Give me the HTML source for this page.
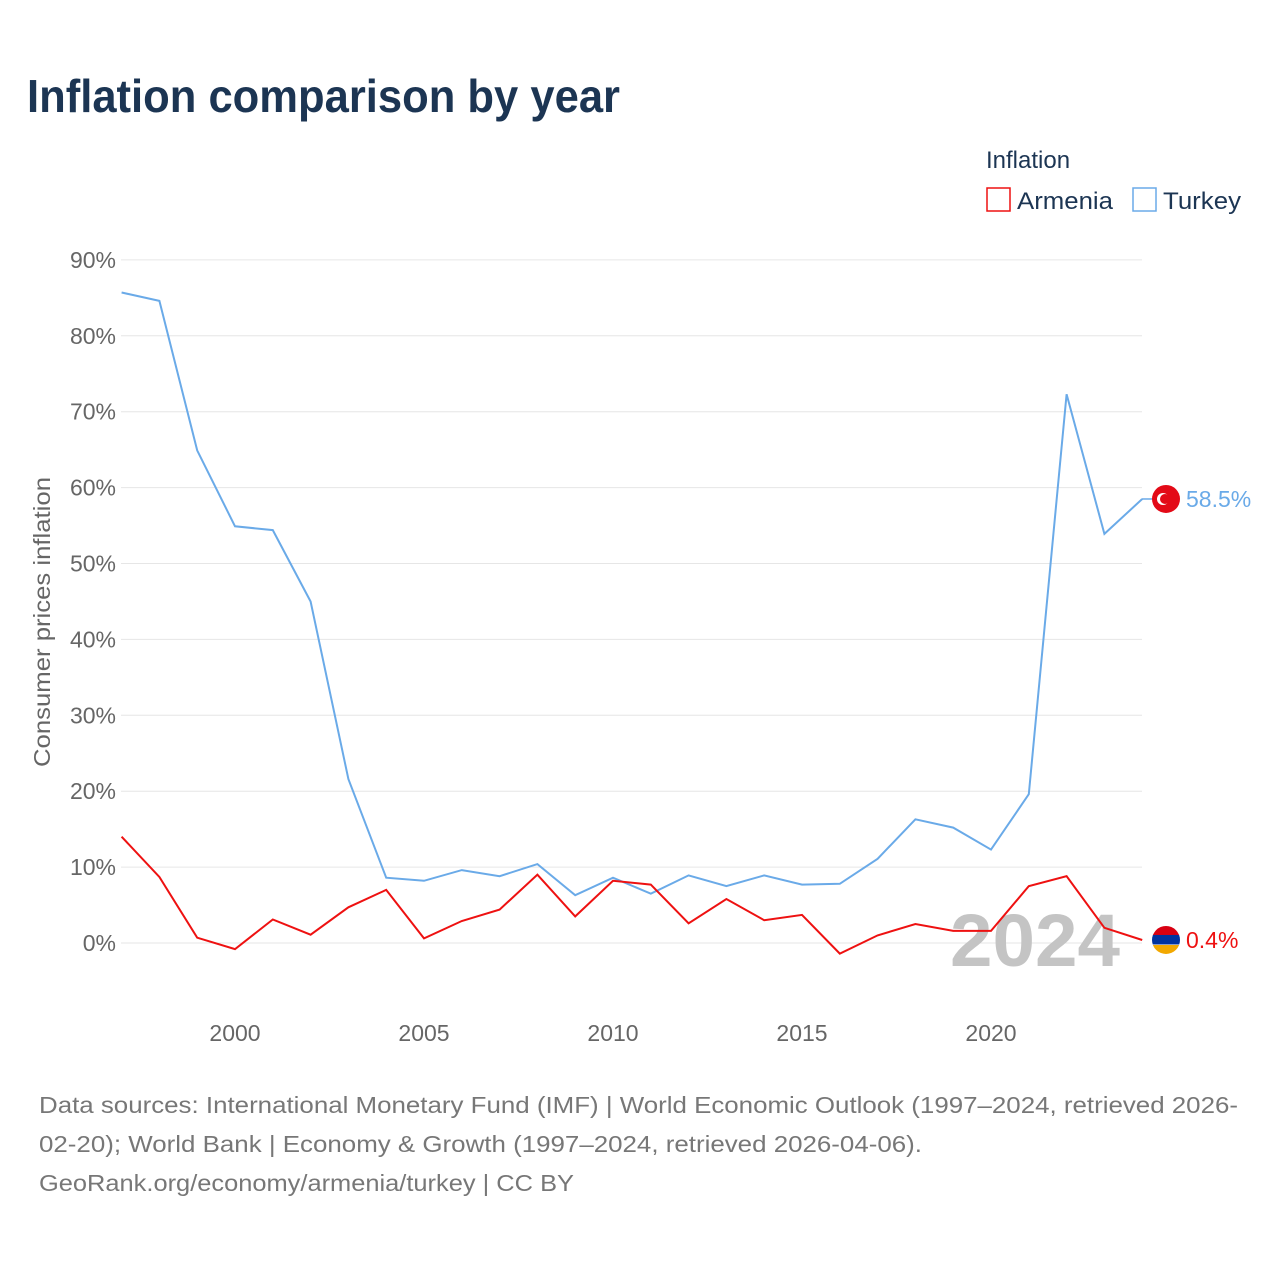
<!DOCTYPE html>
<html><head><meta charset="utf-8"><style>
body{margin:0;background:#fff;font-family:"Liberation Sans",sans-serif}
#wrap{position:relative;width:1280px;height:1280px;overflow:hidden}
</style></head><body><div id="wrap">
<svg id="c" width="1280" height="1280"></svg>
</div>
<script>
const years=[1997,1998,1999,2000,2001,2002,2003,2004,2005,2006,2007,2008,2009,2010,2011,2012,2013,2014,2015,2016,2017,2018,2019,2020,2021,2022,2023,2024];
const turkey=[85.7,84.6,64.9,54.9,54.4,45.0,21.6,8.6,8.2,9.6,8.8,10.4,6.3,8.6,6.5,8.9,7.5,8.9,7.7,7.8,11.1,16.3,15.2,12.3,19.6,72.3,53.9,58.5];
const armenia=[14.0,8.7,0.7,-0.8,3.1,1.1,4.7,7.0,0.6,2.9,4.4,9.0,3.5,8.2,7.7,2.6,5.8,3.0,3.7,-1.4,1.0,2.5,1.6,1.6,7.5,8.8,2.0,0.4];
const yTicks=[0,10,20,30,40,50,60,70,80,90];
const xTicks=[2000,2005,2010,2015,2020];
const NS="http://www.w3.org/2000/svg";
const svg=document.getElementById('c');
const X=y=>121.6+(y-1997)*37.8;
const Y=v=>943-v*7.59;
function el(t,a,txt){const e=document.createElementNS(NS,t);for(const k in a)e.setAttribute(k,a[k]);if(txt!==undefined)e.textContent=txt;svg.appendChild(e);return e;}
let e;
e=el('text',{x:27,y:112,'font-size':46,'font-weight':'bold',fill:'#1c3553',textLength:593,lengthAdjust:'spacingAndGlyphs'},'Inflation comparison by year');


yTicks.forEach(t=>{
 e=el('line',{x1:121,x2:1142,y1:Y(t),y2:Y(t),stroke:'#e6e6e6','stroke-width':1});
 
 
 e=el('text',{x:116,y:Y(t)+8,'font-size':23,fill:'#666','text-anchor':'end'},t+'%');
 
 
});
xTicks.forEach(t=>{
 e=el('text',{x:X(t),y:1041,'font-size':23,fill:'#666','text-anchor':'middle'},t);
 
 
});
e=el('text',{x:0,y:0,'font-size':23,fill:'#666','text-anchor':'middle',transform:'translate(50,622) rotate(-90)',textLength:290,lengthAdjust:'spacingAndGlyphs'},'Consumer prices inflation');


e=el('text',{x:1120,y:966,'font-size':74,'font-weight':'bold',fill:'#c4c4c4','text-anchor':'end',textLength:170,lengthAdjust:'spacingAndGlyphs'},'2024');


function line(vals,col,name){
 const d=vals.map((v,i)=>(i?'L':'M')+X(years[i]).toFixed(1)+' '+Y(v).toFixed(1)).join(' ');
 const p=el('path',{d:d,fill:'none',stroke:col,'stroke-width':2});
 
 
}
line(turkey,'#6aaae8','turkey-line');
line(armenia,'#ee1111','armenia-line');
const lt=turkey[turkey.length-1], la=armenia[armenia.length-1];
e=el('line',{x1:1142,x2:1153,y1:Y(lt),y2:Y(lt),stroke:'#6aaae8','stroke-width':1.5});


e=el('circle',{cx:1166,cy:Y(lt),r:14,fill:'#e30a17'});


e=el('circle',{cx:1163,cy:Y(lt),r:6,fill:'#fff'});
e=el('circle',{cx:1165,cy:Y(lt),r:5,fill:'#e30a17'});
e=el('text',{x:1186,y:Y(lt)+8,'font-size':23,fill:'#6aaae8'},lt.toFixed(1)+'%');


const ya=Y(la);
e=el('clipPath',{id:'ac'});const cc=document.createElementNS(NS,'circle');cc.setAttribute('cx',1166);cc.setAttribute('cy',ya);cc.setAttribute('r',14);e.appendChild(cc);

[['#d90012',-14],['#0033a0',-5],['#f2a800',5]].forEach(([c,o])=>{e=el('rect',{x:1152,y:ya+o,width:28,height:9.5,fill:c,'clip-path':'url(#ac)'});});
e=el('text',{x:1186,y:ya+8,'font-size':23,fill:'#ee1111'},la.toFixed(1)+'%');


e=el('text',{x:986,y:168,'font-size':24,fill:'#1c3553'},'Inflation');
e=el('rect',{x:987,y:188,width:23,height:23,fill:'none',stroke:'#ee1111','stroke-width':1.5});
e=el('text',{x:1017,y:209,'font-size':24,fill:'#1c3553',textLength:96,lengthAdjust:'spacingAndGlyphs'},'Armenia');
e=el('rect',{x:1133,y:188,width:23,height:23,fill:'none',stroke:'#6aaae8','stroke-width':1.5});
e=el('text',{x:1163,y:209,'font-size':24,fill:'#1c3553',textLength:78,lengthAdjust:'spacingAndGlyphs'},'Turkey');
const foot=[['Data sources: International Monetary Fund (IMF) | World Economic Outlook (1997–2024, retrieved 2026-',1199],['02-20); World Bank | Economy & Growth (1997–2024, retrieved 2026-04-06).',883],['GeoRank.org/economy/armenia/turkey | CC BY',535]];
foot.forEach(([t,w],i)=>{
 e=el('text',{x:39,y:1113+i*39,'font-size':23,fill:'#777',textLength:w,lengthAdjust:'spacingAndGlyphs'},t);
 
 
});
</script></body></html>
